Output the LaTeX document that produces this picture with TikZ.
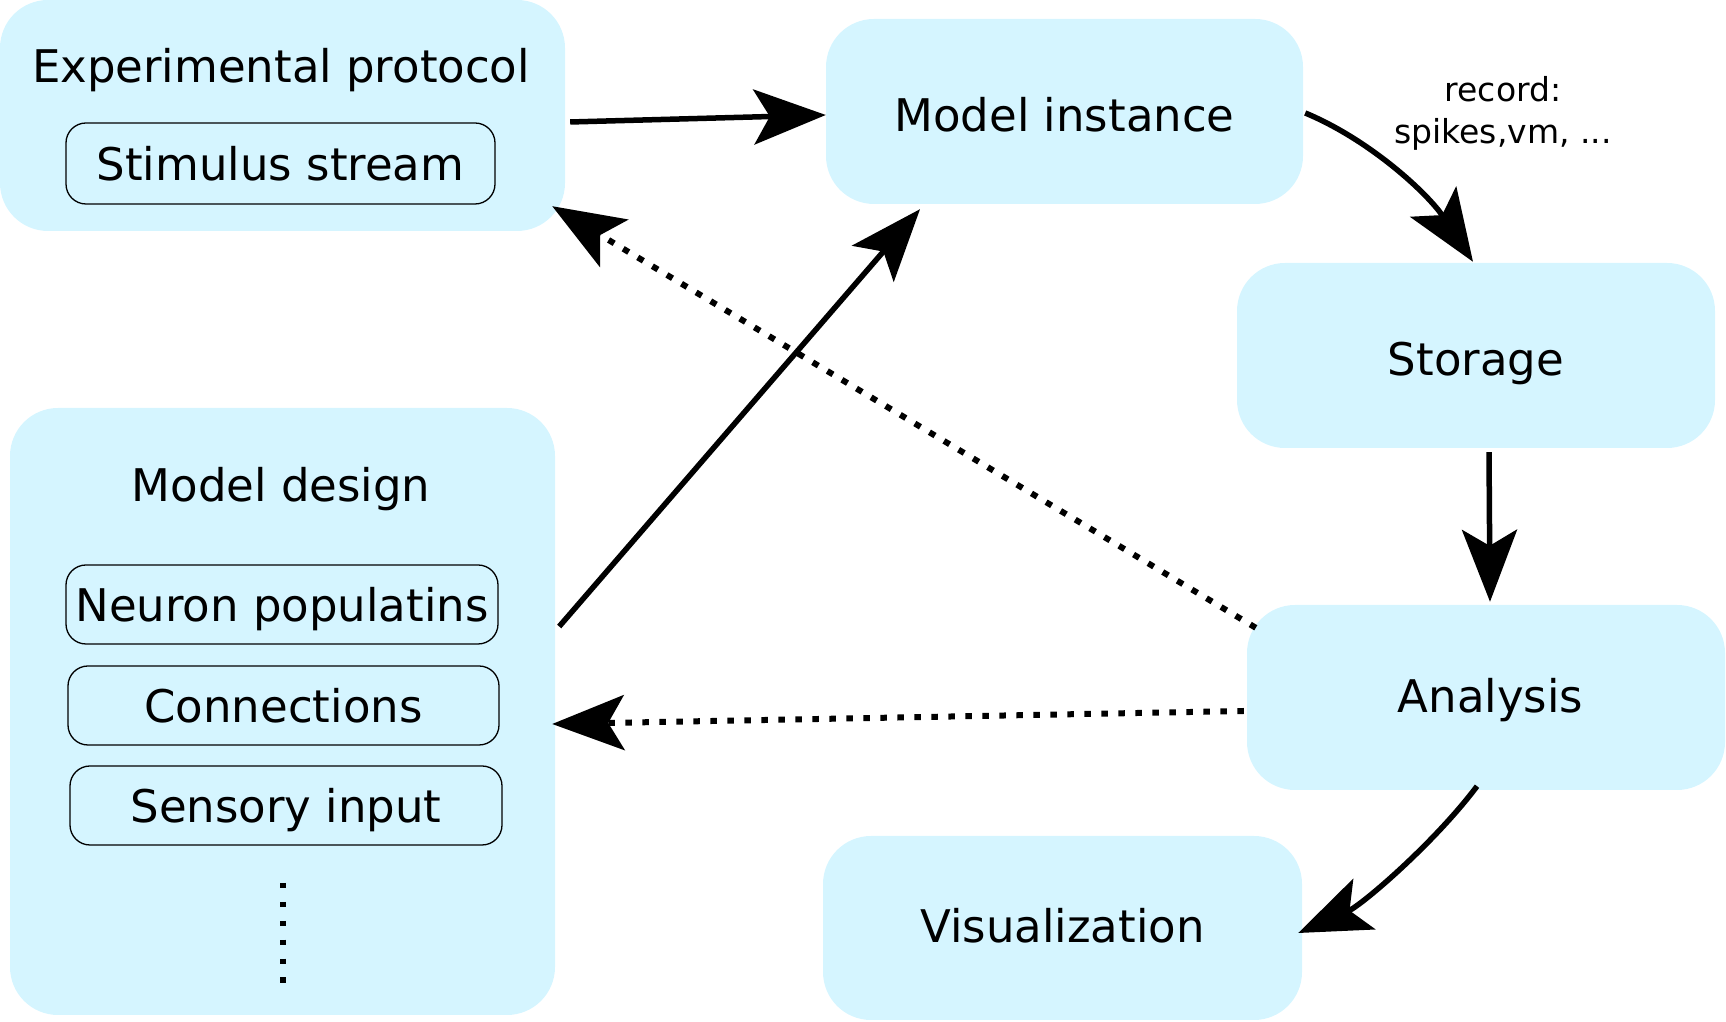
\documentclass[tikz,border=0pt]{standalone}
\usepackage{fontspec}
\setmainfont{DejaVu Sans}
\usetikzlibrary{arrows.meta}
\definecolor{boxblue}{RGB}{213,245,255}
\begin{document}
\begin{tikzpicture}[x=1pt,y=1pt,
  bigbox/.style={fill=boxblue, draw=none, rounded corners=48pt, inner sep=0pt,
    text height=40pt, text depth=0pt, font=\fontsize{45}{54}\selectfont},
  innerbox/.style={fill=boxblue, draw=black, line width=1.3pt, rounded corners=20pt,
    inner sep=0pt, text height=34.6pt, text depth=0pt, font=\fontsize{45}{54}\selectfont},
  titletext/.style={font=\fontsize{45}{54}\selectfont, inner sep=0pt, anchor=base},
  tip/.style={-{Stealth[length=72pt,width=55pt,inset=16pt]}},
  flow/.style={tip, line width=5.5pt},
  back/.style={tip, line width=6pt, dash pattern=on 6.5pt off 10.5pt}]
\useasboundingbox (0,0) rectangle (1726,1022);

% boxes
\node[bigbox, minimum width=565pt, minimum height=231pt] (ep) at (282.5,906.5) {};
\node[titletext] (eptitle) at (281,939.3) {Experimental protocol};
\node[innerbox, minimum width=429pt, minimum height=81pt] (stim) at (280.5,858.5) {Stimulus stream};

\node[bigbox, minimum width=477pt, minimum height=185pt] (mi) at (1064.5,910.5) {Model instance};
\node[bigbox, minimum width=478pt, minimum height=185pt] (st) at (1476,666.5) {Storage};
\node[bigbox, minimum width=478pt, minimum height=185pt, text height=31pt] (an) at (1486,324.5) {\hspace*{9pt}Analysis};
\node[bigbox, minimum width=479pt, minimum height=184pt, text height=29pt] (vis) at (1062.5,94) {Visualization};

\node[bigbox, minimum width=545pt, minimum height=607pt] (md) at (282.5,310.5) {};
\node[titletext] (mdtitle) at (281,520) {Model design};
\node[innerbox, minimum width=432pt, minimum height=79pt] (neu) at (282,417.5) {Neuron populatins};
\node[innerbox, minimum width=431pt, minimum height=79pt] (con) at (283.5,316.5) {Connections};
\node[innerbox, minimum width=432pt, minimum height=79pt] (sen) at (286,216.5) {Sensory input};
\draw[line width=5.5pt, dash pattern=on 5.5pt off 13.4pt] (283,139) -- (283,39);

\node[font=\fontsize{33}{42}\selectfont, align=center, inner sep=0pt] (rec) at (1503,908.5) {record:\\spikes,vm, ...};

% connectors
\draw[back] ([xshift=9pt,yshift=-23pt]an.north west) -- ([xshift=-13pt,yshift=25pt]ep.south east);
\draw[back] ([xshift=-3pt,yshift=-13.5pt]an.west) -- ([xshift=-3pt,yshift=-12.5pt]md.east);
\draw[flow] ([xshift=5pt,yshift=-6.5pt]ep.east) -- ([yshift=-3.5pt]mi.west);
\draw[flow] ([xshift=4pt,yshift=85pt]md.east) -- ([xshift=-144.5pt,yshift=-5pt]mi.south);
\draw[flow] ([xshift=2pt,yshift=-1.5pt]mi.east) .. controls +(65,-27) and +(-45,68) .. ([xshift=-3pt,yshift=1pt]st.north);
\draw[flow] ([xshift=13pt,yshift=-4pt]st.south) -- ([xshift=4pt,yshift=3pt]an.north);
\draw[flow] ([xshift=-9pt,yshift=4pt]an.south) .. controls +(-42,-56) and +(64,28) .. ([xshift=-4pt,yshift=-5pt]vis.east);
\end{tikzpicture}
\end{document}
